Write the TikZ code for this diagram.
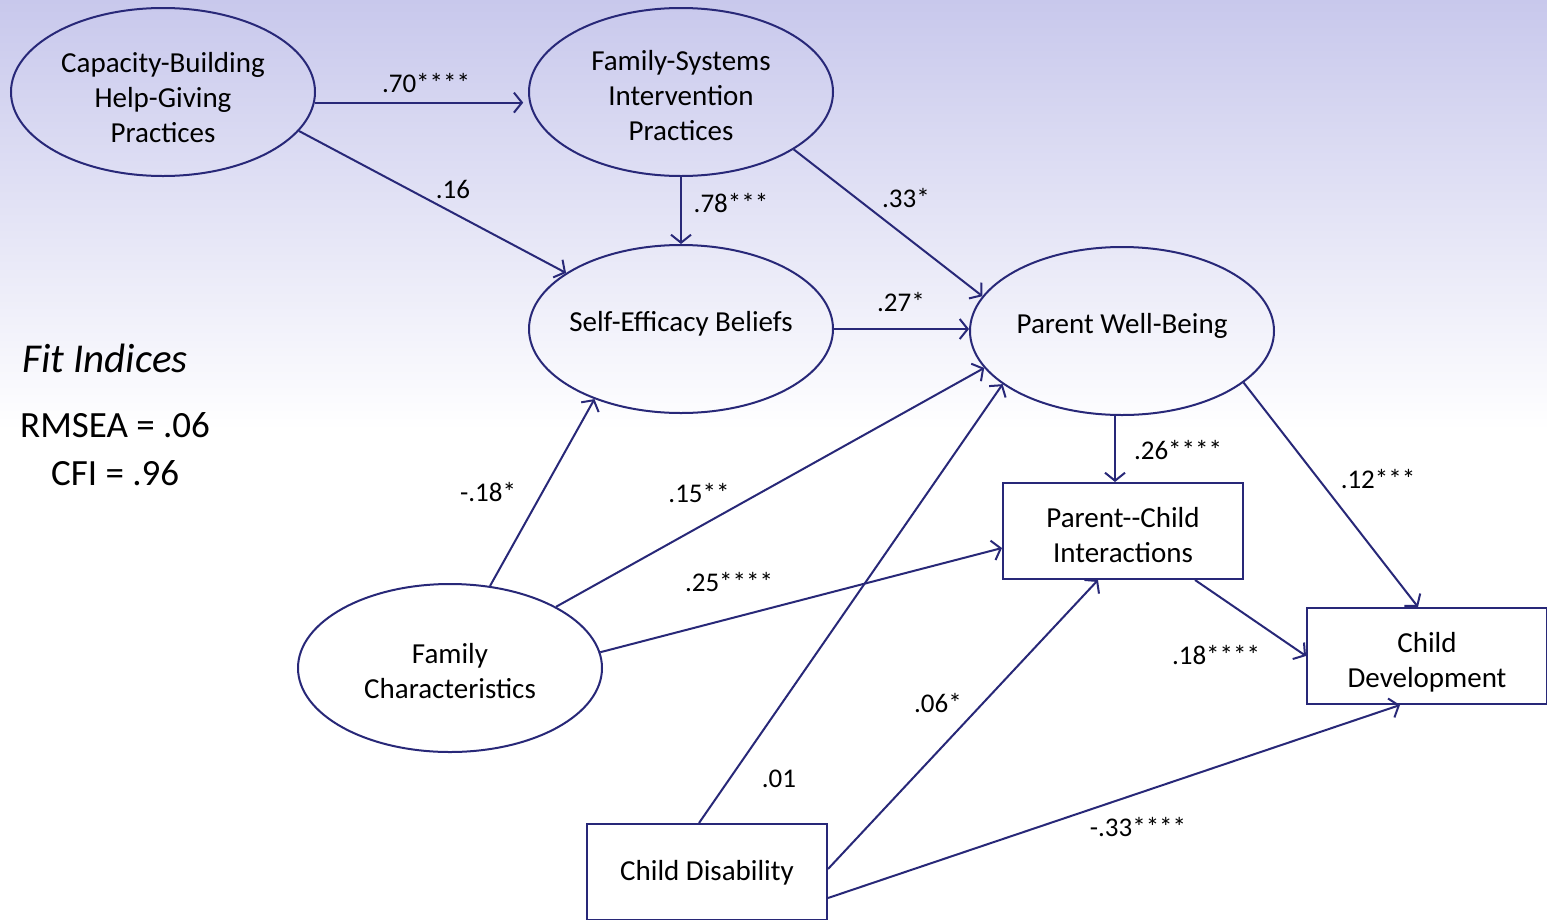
\documentclass[tikz,border=0pt]{standalone}
\usepackage{fontspec}
\setmainfont{Carlito}
\usetikzlibrary{shapes.geometric,arrows.meta,calc}
\definecolor{navy}{RGB}{40,40,120}
\definecolor{lav}{RGB}{200,200,236}
\newcommand{\nodetxt}[2]{\makebox[0pt]{\smash{\raisebox{#1}{\begin{tabular}[t]{@{}c@{}}#2\end{tabular}}}}}
\begin{document}
\begin{tikzpicture}[x=1pt,y=-1pt,
  ell/.style={ellipse,draw=navy,line width=2pt,minimum width=304pt,minimum height=168pt,inner sep=0pt,font=\fontsize{29}{35.2}\selectfont},
  box/.style={rectangle,draw=navy,line width=2pt,fill=white,minimum width=240pt,minimum height=96pt,inner sep=0pt,font=\fontsize{29}{35.2}\selectfont},
  arr/.style={draw=navy,line width=2pt,-{Straight Barb[length=8pt,width=20pt,line width=2pt]}},
  lab/.style={font=\fontsize{27}{32}\selectfont,inner sep=0pt},
  fit/.style={font=\fontsize{37}{44}\selectfont,inner sep=0pt,anchor=base west}]
\useasboundingbox (0,0) rectangle (1547,919);
\clip (0,0) rectangle (1547,919);
\fill[white] (0,0) rectangle (1547,919);
\shade[top color=lav,bottom color=white] (0,0) rectangle (1547,430);

\node[ell] (CB) at (163,92) {\nodetxt{20pt}{Capacity-Building\\Help-Giving\\Practices}};
\node[ell] (FS) at (681,92) {\nodetxt{22pt}{Family-Systems\\Intervention\\Practices}};
\node[ell] (SE) at (681,329) {\nodetxt{-2pt}{Self-Efficacy Beliefs}};
\node[ell] (PW) at (1122,331) {\nodetxt{-2pt}{Parent Well-Being}};
\node[ell] (FC) at (450,668) {\nodetxt{5pt}{Family\\Characteristics}};
\node[box] (PCI) at (1123,531) {\nodetxt{4pt}{Parent-{}-Child\\Interactions}};
\node[box] (CD) at (1427,656) {\nodetxt{4pt}{Child\\Development}};
\node[box] (CDis) at (707,872) {\nodetxt{-8pt}{Child Disability}};

\coordinate (pcitop) at ($(PCI.north)+(-8,0)$);

\draw[arr,shorten >=6pt] (CB.-4) -- (FS.184);
\draw[arr] (CB.-16) -- (SE.154);
\draw[arr] (FS.south) -- (SE.north);
\draw[arr] (FS.-27.4) -- (PW.166);
\draw[arr] (SE.east) -- (SE.east -| PW.west);
\draw[arr] (FC.64) -- (SE.-141.4);
\draw[arr] (FC.30) -- (PW.195);
\draw[arr] (FC.6.7) -- ($(PCI.west)+(0,17)$);
\draw[arr] ($(CDis.north)+(-8,0)$) -- (PW.204.8);
\draw[arr] ($(CDis.east)+(0,-3)$) -- ($(PCI.south)+(-25,0)$);
\draw[arr] ($(CDis.east)+(0,26)$) -- ($(CD.south)+(-27,0)$);
\draw[arr] (PW.south -| pcitop) -- (pcitop);
\draw[arr] (PW.-23.3) -- ($(CD.north)+(-9,0)$);
\draw[arr] ($(PCI.south)+(72,0)$) -- (CD.west);

\node[lab] (l1) at (426,83) {.70****};
\node[lab] (l2) at (453,189) {.16};
\node[lab] (l3) at (731,203) {.78***};
\node[lab] (l4) at (906,198) {.33*};
\node[lab] (l5) at (901,302) {.27*};
\node[lab] (l6) at (488,492) {-.18*};
\node[lab] (l7) at (699,493) {.15**};
\node[lab] (l8) at (729,582) {.25****};
\node[lab] (l9) at (779,779) {.01};
\node[lab] (l10) at (938,703) {.06*};
\node[lab] (l11) at (1138,827) {-.33****};
\node[lab] (l12) at (1178,450) {.26****};
\node[lab] (l13) at (1378,479) {.12***};
\node[lab] (l14) at (1216,655) {.18****};

\node[fit,font=\fontsize{41}{48}\selectfont\itshape] (fi) at (22,372) {Fit Indices};
\node[fit] (rm) at (20,437) {RMSEA = .06};
\node[fit] (cfi) at (51,485) {CFI = .96};
\end{tikzpicture}
\end{document}
